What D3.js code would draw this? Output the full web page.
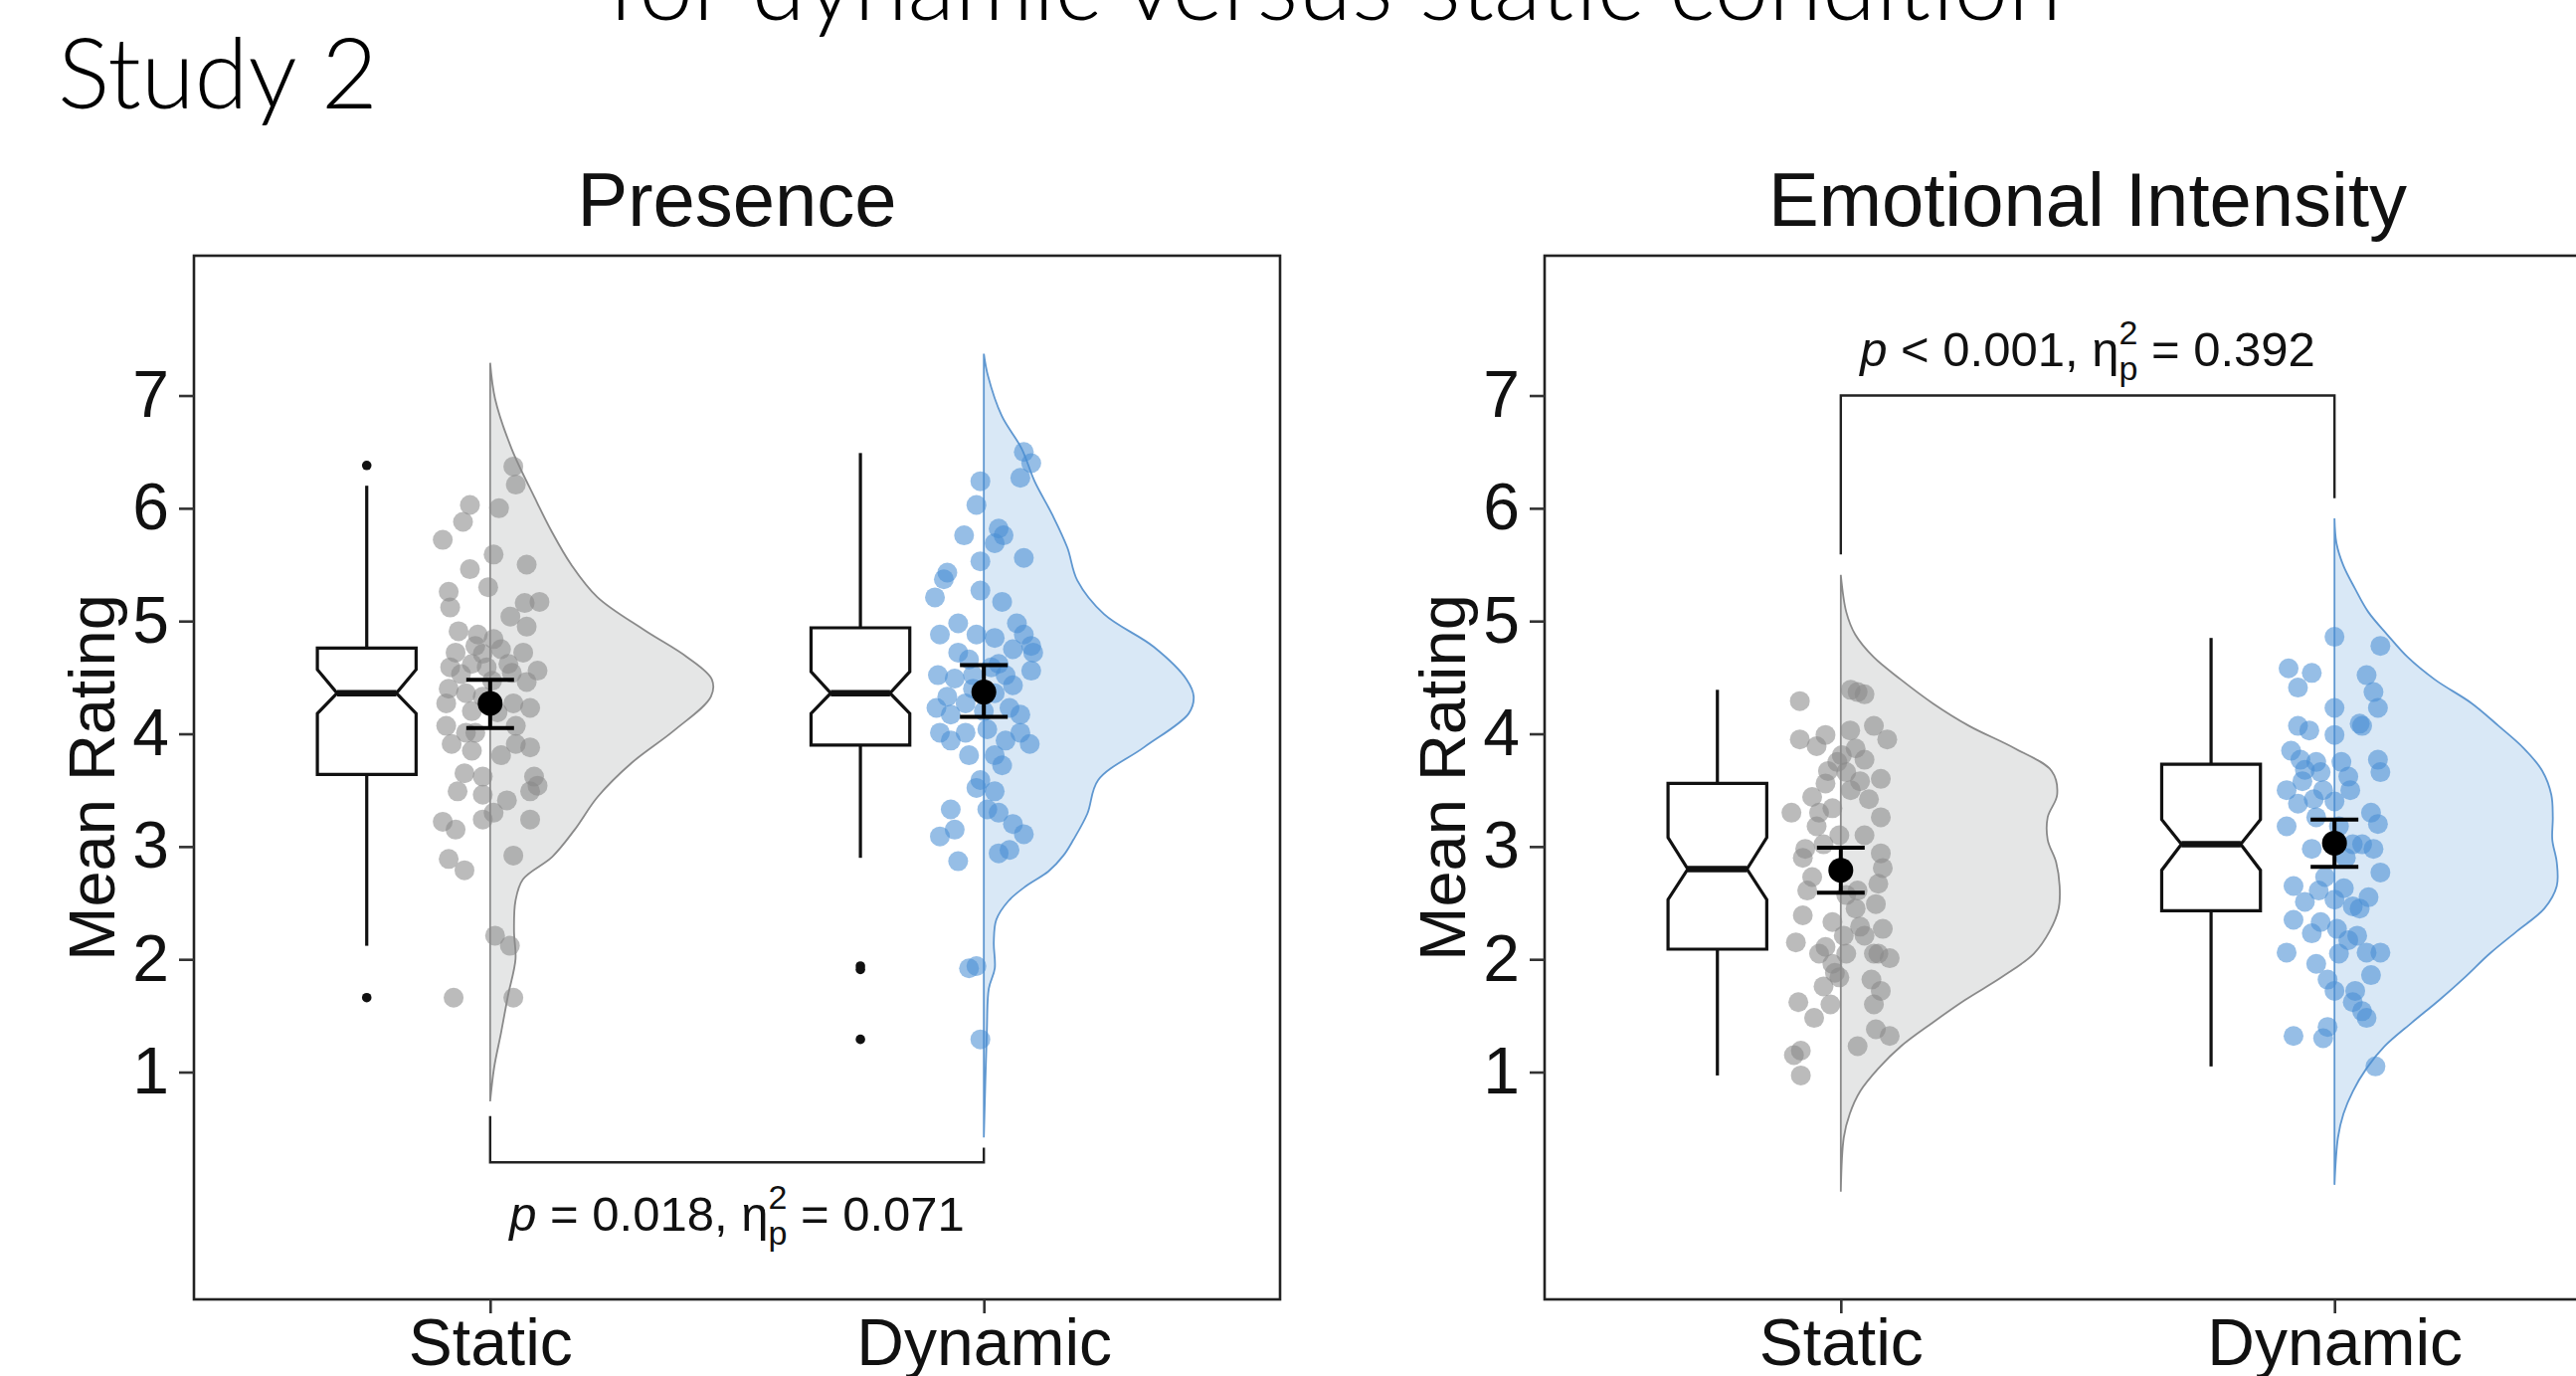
<!DOCTYPE html>
<html>
<head>
<meta charset="utf-8">
<script src="https://cdn.jsdelivr.net/npm/d3@7"></script>
<style>
  html, body { margin: 0; padding: 0; background: #fff; }
  svg { display: block; }
  text { white-space: pre; }
</style>
</head>
<body>
<svg id="chart" width="2590" height="1383"></svg>
<script>
const svg = d3.select("#chart");
const width = +svg.attr("width");
const height = +svg.attr("height");

// ---- data ----
const categories = ["Static", "Dynamic"];
const yTicks = [1, 2, 3, 4, 5, 6, 7];

// jittered ratings: [rating, jitter in category steps]
const presenceStaticPts = [
  [6.37,0.047],[6.21,0.052],[6.03,-0.041],[6.00,0.018],[5.88,-0.055],[5.72,-0.096],[5.59,0.007],[5.46,-0.041],
  [5.50,0.074],[5.26,-0.084],[5.30,-0.004],[5.12,-0.081],[5.04,0.041],[5.16,0.070],[5.17,0.100],[4.91,-0.064],
  [4.88,-0.025],[4.84,0.007],[4.72,-0.070],[4.71,-0.015],[4.59,-0.081],[4.62,-0.037],[4.75,0.022],[4.72,0.067],
  [4.56,0.096],[4.40,-0.084],[4.36,-0.049],[4.47,0.004],[4.54,0.044],[4.20,-0.037],[4.19,0.015],[4.27,0.047],
  [4.23,0.081],[4.07,-0.089],[4.01,-0.049],[3.91,-0.078],[3.85,-0.037],[3.91,0.052],[3.88,0.081],[3.65,-0.052],
  [3.62,-0.015],[3.62,0.089],[3.46,-0.015],[3.49,0.081],[3.41,0.034],[3.22,-0.096],[3.15,-0.070],[3.24,-0.015],
  [3.24,0.081],[3.54,0.096],[2.89,-0.084],[2.79,-0.052],[2.92,0.047],[2.21,0.010],[2.12,0.040],[1.66,-0.074],
  [1.66,0.047],[3.81,0.022],[4.07,0.052],[4.33,-0.015],[4.53,-0.059],[4.62,0.037],[4.46,0.074],[4.59,-0.007],
  [4.01,-0.030],[4.27,-0.089],[3.49,-0.066],[3.30,0.007],[4.95,0.074],[4.78,-0.030]
];
const presenceDynamicPts = [
  [6.50,0.081],[6.40,0.096],[6.27,0.074],[6.24,-0.007],[6.03,-0.015],[5.82,0.030],[5.76,0.040],[5.76,-0.040],
  [5.69,0.022],[5.56,0.081],[5.53,-0.007],[5.43,-0.074],[5.37,-0.081],[5.21,-0.099],[5.17,0.037],[4.98,-0.052],
  [4.98,0.067],[4.88,-0.089],[4.88,-0.015],[4.85,0.022],[4.88,0.081],[4.72,-0.052],[4.66,-0.030],[4.75,0.059],
  [4.72,0.100],[4.52,-0.093],[4.49,-0.059],[4.52,0.044],[4.56,0.096],[4.40,-0.022],[4.36,0.022],[4.43,0.059],
  [4.23,-0.096],[4.17,-0.067],[4.23,0.052],[4.17,0.074],[4.01,-0.089],[4.01,-0.037],[4.04,0.007],[3.94,0.044],
  [3.91,0.093],[3.81,0.022],[3.59,-0.007],[3.52,-0.015],[3.49,0.022],[3.33,0.007],[3.30,0.030],[3.20,0.059],
  [3.11,0.081],[3.33,-0.067],[3.15,-0.059],[3.09,-0.089],[2.87,-0.052],[2.94,0.030],[2.97,0.052],[1.92,-0.030],
  [1.94,-0.015],[1.29,-0.007],[4.27,-0.037],[4.20,0.000],[4.62,0.030],[3.94,-0.067],[4.01,0.074],[4.59,0.015],
  [3.81,-0.030],[5.27,-0.007],[4.78,0.096],[4.52,-0.022],[4.33,-0.074],[3.72,0.037]
];
const emotionStaticPts = [
  [4.29,-0.083],[4.39,0.020],[4.35,0.048],[4.37,0.034],[3.95,-0.083],[3.89,-0.049],[3.99,-0.031],[4.03,0.019],
  [4.07,0.067],[3.95,0.094],[3.87,0.030],[3.75,-0.007],[3.77,0.048],[3.60,0.081],[3.56,-0.031],[3.44,-0.058],
  [3.50,0.020],[3.58,0.039],[3.30,-0.100],[3.30,-0.044],[3.34,-0.017],[3.18,-0.049],[2.90,-0.077],[2.73,-0.058],
  [2.94,0.081],[2.81,0.085],[2.67,0.076],[2.49,0.071],[2.39,-0.077],[2.33,-0.017],[2.15,-0.091],[2.11,-0.031],
  [2.21,0.048],[2.27,0.085],[1.96,-0.017],[2.05,0.067],[2.01,0.099],[1.84,-0.003],[1.76,-0.035],[1.82,0.062],
  [1.72,0.081],[1.62,-0.086],[1.48,-0.054],[1.38,0.071],[1.32,0.099],[1.23,0.034],[1.19,-0.081],[0.97,-0.081],
  [3.81,0.002],[3.66,0.011],[3.42,0.057],[3.10,-0.003],[3.02,-0.035],[2.61,-0.068],[2.57,0.011],[2.45,0.030],
  [2.29,0.039],[2.05,-0.044],[2.05,0.011],[1.88,-0.012],[1.60,0.067],[1.15,-0.095],[2.98,-0.072],[3.67,-0.026],
  [3.26,0.081],[3.10,0.048],[2.61,0.034],[2.21,0.006],[2.05,0.076],[1.60,-0.021]
];
const emotionDynamicPts = [
  [4.86,0.000],[4.78,0.093],[4.58,-0.093],[4.54,-0.046],[4.41,-0.074],[4.52,0.065],[4.37,0.079],[4.23,0.088],
  [4.23,0.000],[4.09,0.051],[4.07,-0.074],[4.03,-0.051],[3.99,0.000],[4.07,0.056],[3.85,-0.088],[3.77,-0.069],
  [3.75,-0.037],[3.77,0.088],[3.66,0.093],[3.62,0.028],[3.50,0.032],[3.50,-0.097],[3.38,-0.074],[3.42,-0.042],
  [3.40,0.000],[3.30,0.074],[3.20,0.088],[3.18,-0.097],[2.98,-0.046],[3.02,0.056],[2.98,0.079],[2.77,0.093],
  [2.65,-0.083],[2.51,-0.060],[2.73,-0.019],[2.63,0.019],[2.47,0.037],[2.55,0.069],[2.35,-0.083],[2.23,-0.046],
  [2.27,0.005],[2.17,0.028],[2.21,0.046],[2.06,-0.097],[1.96,-0.037],[2.06,0.065],[2.06,0.093],[1.86,0.074],
  [1.82,-0.014],[1.72,0.000],[1.62,0.037],[1.54,0.056],[1.48,0.065],[1.40,-0.014],[1.32,-0.083],[1.30,-0.023],
  [1.05,0.083],[3.68,-0.060],[3.66,-0.028],[3.75,0.014],[3.50,-0.023],[3.26,-0.037],[3.18,0.009],[3.02,0.037],
  [2.61,-0.032],[2.53,0.000],[2.45,0.051],[2.90,0.023],[2.33,-0.028],[1.72,0.042],[2.05,0.009],[3.58,-0.065]
];

// half-violin density profiles: [rating, density]
const presenceStaticDens = [
  [7.29,0],[6.97,0.010],[6.53,0.043],[6.09,0.090],[5.80,0.123],[5.50,0.163],[5.21,0.216],[4.92,0.310],
  [4.68,0.396],[4.48,0.446],[4.33,0.444],[4.03,0.370],[3.74,0.284],[3.44,0.216],[3.15,0.170],[2.91,0.125],
  [2.71,0.066],[2.52,0.051],[2.25,0.048],[2.00,0.051],[1.68,0.036],[1.35,0.022],[1.04,0.008],[0.74,0]
];
const presenceDynamicDens = [
  [7.37,0],[7.18,0.008],[6.82,0.036],[6.53,0.076],[6.24,0.102],[5.94,0.138],[5.65,0.168],[5.36,0.188],
  [5.06,0.242],[4.77,0.342],[4.48,0.408],[4.33,0.422],[4.18,0.412],[3.88,0.322],[3.59,0.230],[3.29,0.208],
  [3.06,0.180],[2.92,0.160],[2.78,0.130],[2.65,0.085],[2.52,0.050],[2.35,0.025],[2.15,0.020],[1.92,0.022],
  [1.74,0.010],[1.35,0.006],[0.42,0]
];
const emotionStaticDens = [
  [5.41,0],[5.08,0.011],[4.88,0.029],[4.68,0.066],[4.48,0.121],[4.27,0.185],[4.07,0.258],[3.87,0.350],
  [3.67,0.424],[3.46,0.435],[3.26,0.416],[3.06,0.416],[2.86,0.433],[2.65,0.440],[2.45,0.438],[2.25,0.420],
  [2.05,0.388],[1.84,0.323],[1.64,0.250],[1.44,0.185],[1.23,0.121],[1.03,0.075],[0.83,0.039],[0.63,0.018],
  [0.42,0.006],[-0.06,0]
];
const emotionDynamicDens = [
  [5.91,0],[5.69,0.004],[5.49,0.018],[5.29,0.041],[5.08,0.068],[4.88,0.106],[4.68,0.147],[4.48,0.202],
  [4.27,0.276],[4.07,0.330],[3.87,0.381],[3.67,0.418],[3.46,0.436],[3.26,0.439],[3.06,0.438],[2.86,0.447],
  [2.65,0.447],[2.45,0.422],[2.25,0.367],[2.05,0.312],[1.84,0.262],[1.64,0.211],[1.44,0.156],[1.23,0.101],
  [1.03,0.064],[0.83,0.037],[0.63,0.018],[0.42,0.007],[0.00,0]
];

// notched boxes: [lower whisker, Q1, notch low, median, notch high, Q3, upper whisker]
const presenceBox = [[2.12, 3.64, 4.18, 4.36, 4.57, 4.76, 6.20], [2.90, 3.90, 4.18, 4.36, 4.55, 4.94, 6.49]];
const emotionBox = [[0.97, 2.09, 2.53, 2.80, 3.08, 3.56, 4.39], [1.05, 2.43, 2.79, 3.02, 3.24, 3.73, 4.85]];
const presenceOutliers = [[6.38, 1.66], [1.94, 1.91, 1.29]];
const emotionOutliers = [[], []];

// mean with 95% CI: [mean, low, high]
const presenceMean = [[4.27, 4.05, 4.48], [4.37, 4.15, 4.61]];
const emotionMean = [[2.79, 2.59, 2.99], [3.03, 2.82, 3.24]];

// significance brackets: [left leg end, bar, right leg end]
const presenceBracket = [0.61, 0.20, 0.33];
const emotionBracket = [5.59, 7.00, 6.09];
const presenceLabel = ["p", " = 0.018, η", "2", "p", " = 0.071"];
const emotionLabel = ["p", " < 0.001, η", "2", "p", " = 0.392"];

// ---- layout ----
const sans = '"Liberation Sans", Arial, Helvetica, sans-serif';
const light = 'Lato, "Open Sans", sans-serif';
const panelTop = 257, panelBottom = 1306, panelWidth = 1092;
const panelLefts = [195, 1553];
const pointFill = ["#8a8a8a", "#4a8fd4"];
const violinFill = ["#e5e6e6", "#d9e8f6"];
const violinStroke = ["#8a8a8a", "#5f97d0"];

const y = d3.scaleLinear().domain([-1.016, 8.24]).range([panelBottom, panelTop]);
const dens = d3.scaleLinear().domain([0, 1]).range([0, 500]);

svg.append("rect").attr("width", width).attr("height", height).attr("fill", "#fff");

svg.append("text")
    .attr("x", 611).attr("y", 20)
    .attr("font-family", light).attr("font-weight", 300).attr("font-size", 98)
    .attr("textLength", 1462).attr("lengthAdjust", "spacing")
    .text("for dynamic versus static condition");

svg.append("text")
    .attr("x", 58).attr("y", 109)
    .attr("font-family", light).attr("font-weight", 300).attr("font-size", 98)
    .text("Study 2");

const panels = [
  { title: "Presence", pts: [presenceStaticPts, presenceDynamicPts], dens: [presenceStaticDens, presenceDynamicDens],
    box: presenceBox, outliers: presenceOutliers, mean: presenceMean, bracket: presenceBracket,
    label: presenceLabel, labelAt: -0.41 },
  { title: "Emotional Intensity", pts: [emotionStaticPts, emotionDynamicPts], dens: [emotionStaticDens, emotionDynamicDens],
    box: emotionBox, outliers: emotionOutliers, mean: emotionMean, bracket: emotionBracket,
    label: emotionLabel, labelAt: 7.26 }
];

function statLabel(sel, parts, cx, baseY) {
  const t = sel.append("text")
      .attr("x", cx).attr("y", baseY)
      .attr("text-anchor", "middle")
      .attr("font-family", sans).attr("font-size", 49).attr("fill", "#111");
  t.append("tspan").attr("font-style", "italic").text(parts[0]);
  t.append("tspan").text(parts[1]);
  t.append("tspan").attr("font-size", 34).attr("dy", -22).text(parts[2]);
  t.append("tspan").attr("font-size", 34).attr("dx", -18.9).attr("dy", 36).text(parts[3]);
  t.append("tspan").attr("dy", -14).text(parts[4]);
}

panels.forEach((p, i) => {
  const left = panelLefts[i];
  const x = d3.scalePoint().domain(categories).range([left, left + panelWidth]).padding(0.6);
  const step = x.step();
  const g = svg.append("g");

  // panel title
  g.append("text")
      .attr("x", left + panelWidth / 2).attr("y", 227)
      .attr("text-anchor", "middle")
      .attr("font-family", sans).attr("font-size", 76).attr("fill", "#111")
      .text(p.title);

  categories.forEach((c, k) => {
    const cx = x(c);

    // half violin
    const area = d3.area()
        .curve(d3.curveCatmullRom)
        .y(d => y(d[0]))
        .x0(cx)
        .x1(d => cx + dens(d[1]));
    g.append("path")
        .datum(p.dens[k])
        .attr("d", area)
        .attr("fill", violinFill[k])
        .attr("stroke", violinStroke[k])
        .attr("stroke-width", 1.8);

    // raw points
    g.append("g").selectAll("circle")
        .data(p.pts[k])
        .join("circle")
        .attr("cx", d => cx + d[1] * step)
        .attr("cy", d => y(d[0]))
        .attr("r", 10)
        .attr("fill", pointFill[k])
        .attr("fill-opacity", 0.58);

    // notched box
    const b = p.box[k];
    const bx = cx - 0.25 * step;
    const hw = 0.1 * step;
    const inset = hw * 0.4;
    g.append("line")
        .attr("x1", bx).attr("x2", bx)
        .attr("y1", y(b[0])).attr("y2", y(b[1]))
        .attr("stroke", "#111").attr("stroke-width", 3.2);
    g.append("line")
        .attr("x1", bx).attr("x2", bx)
        .attr("y1", y(b[5])).attr("y2", y(b[6]))
        .attr("stroke", "#111").attr("stroke-width", 3.2);
    const notch = [
      [bx - hw, y(b[5])], [bx + hw, y(b[5])], [bx + hw, y(b[4])], [bx + hw - inset, y(b[3])],
      [bx + hw, y(b[2])], [bx + hw, y(b[1])], [bx - hw, y(b[1])], [bx - hw, y(b[2])],
      [bx - hw + inset, y(b[3])], [bx - hw, y(b[4])]
    ];
    g.append("path")
        .attr("d", d3.line()(notch) + "Z")
        .attr("fill", "#fff")
        .attr("stroke", "#111").attr("stroke-width", 3.2)
        .attr("stroke-linejoin", "miter");
    g.append("line")
        .attr("x1", bx - hw + inset).attr("x2", bx + hw - inset)
        .attr("y1", y(b[3])).attr("y2", y(b[3]))
        .attr("stroke", "#111").attr("stroke-width", 6.5);

    g.append("g").selectAll("circle")
        .data(p.outliers[k])
        .join("circle")
        .attr("cx", bx)
        .attr("cy", d => y(d))
        .attr("r", 4.8)
        .attr("fill", "#111");

    // mean and CI
    const m = p.mean[k];
    g.append("line")
        .attr("x1", cx).attr("x2", cx)
        .attr("y1", y(m[1])).attr("y2", y(m[2]))
        .attr("stroke", "#000").attr("stroke-width", 4);
    [m[1], m[2]].forEach(v => {
      g.append("line")
          .attr("x1", cx - 24).attr("x2", cx + 24)
          .attr("y1", y(v)).attr("y2", y(v))
          .attr("stroke", "#000").attr("stroke-width", 4);
    });
    g.append("circle")
        .attr("cx", cx).attr("cy", y(m[0]))
        .attr("r", 12.5)
        .attr("fill", "#000");
  });

  // significance bracket
  const x0 = x(categories[0]), x1 = x(categories[1]);
  const br = p.bracket;
  g.append("path")
      .attr("d", d3.line()([[x0, y(br[0])], [x0, y(br[1])], [x1, y(br[1])], [x1, y(br[2])]]))
      .attr("fill", "none")
      .attr("stroke", "#222").attr("stroke-width", 2.4);
  statLabel(g, p.label, (x0 + x1) / 2, y(p.labelAt));

  // panel border
  g.append("rect")
      .attr("x", left).attr("y", panelTop)
      .attr("width", panelWidth).attr("height", panelBottom - panelTop)
      .attr("fill", "none")
      .attr("stroke", "#222").attr("stroke-width", 2.6);

  // axes
  const yAxis = g.append("g")
      .attr("transform", `translate(${left},0)`)
      .call(d3.axisLeft(y).tickValues(yTicks).tickSize(15).tickPadding(10));
  const xAxis = g.append("g")
      .attr("transform", `translate(0,${panelBottom})`)
      .call(d3.axisBottom(x).tickSize(14).tickPadding(5));
  [yAxis, xAxis].forEach(a => {
    a.select(".domain").remove();
    a.selectAll(".tick line").attr("stroke", "#333").attr("stroke-width", 2.6);
    a.selectAll(".tick text")
        .attr("font-family", sans).attr("font-size", 66).attr("fill", "#111");
  });

  g.append("text")
      .attr("transform", `translate(${left - 80},${(panelTop + panelBottom) / 2}) rotate(-90)`)
      .attr("text-anchor", "middle")
      .attr("font-family", sans).attr("font-size", 65).attr("fill", "#111")
      .text("Mean Rating");
});
</script>
</body>
</html>
